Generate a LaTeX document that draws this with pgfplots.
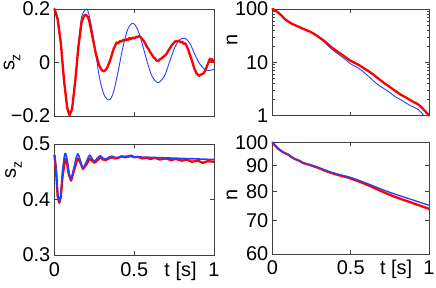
\documentclass[border=0pt]{standalone}
\usepackage{pgfplots}
\pgfplotsset{compat=1.18}
\usepackage{fontspec}
\setmainfont{Liberation Sans}
\definecolor{mred}{rgb}{1,0,0}
\definecolor{mblue}{rgb}{0.15,0.25,1}
\pgfplotsset{
  mstyle/.style={
    scale only axis,
    anchor=south west,
    clip=false,
    xmin=0, xmax=1,
    xtick={0,0.5,1},
    tick align=inside,
    major tick length=4bp,
    minor tick length=2bp,
    axis line style={black!75, line width=0.6bp},
    every tick/.style={black!75, line width=0.6bp},
    tick label style={font=\fontsize{20}{24}\selectfont},
    /pgf/number format/assume math mode=true,
    xticklabel style={anchor=base, yshift=-21bp},
    yticklabel style={anchor=east, inner sep=0pt, xshift=-4bp},
    label style={font=\fontsize{20}{24}\selectfont},
    ylabel style={anchor=center, rotate=0},
    every axis plot/.append style={line join=round, line cap=round},
  },
}
\newcommand{\sz}{s\raisebox{-0.3em}{\fontsize{14}{14}\selectfont z}}
\begin{document}
\begin{tikzpicture}[x=1bp,y=1bp]
\useasboundingbox (0,0) rectangle (436,287);
% top-left
\begin{axis}[mstyle, at={(54.5bp,171bp)}, width=159.5bp, height=107bp,
  ymin=-0.2, ymax=0.2, ytick={-0.2,0,0.2}, yticklabels={−0.2,0,0.2},
  xticklabels={},
  ylabel={\sz}, ylabel style={at={(axis description cs:-0.266,0.5)}}]
\addplot[mblue, line width=0.9bp, smooth] coordinates {
(0,0.2) (0.02,0.17) (0.04,0.08) (0.06,-0.06) (0.08,-0.17) (0.095,-0.2) (0.11,-0.17) (0.13,-0.06) (0.15,0.07) (0.17,0.17) (0.2,0.2) (0.22,0.17) (0.25,0.07) (0.28,-0.05) (0.31,-0.12) (0.344,-0.14) (0.37,-0.11) (0.40,-0.03) (0.43,0.06) (0.46,0.125) (0.49,0.147) (0.52,0.125) (0.55,0.07) (0.58,0.005) (0.61,-0.05) (0.64,-0.073) (0.66,-0.072) (0.69,-0.05) (0.72,0.0) (0.75,0.05) (0.78,0.083) (0.818,0.091) (0.85,0.07) (0.88,0.03) (0.91,-0.005) (0.94,-0.025) (0.97,-0.03) (1.0,-0.025)};
\addplot[mred, line width=2.3bp] coordinates {
(0,0.2) (0.02,0.16) (0.04,0.07) (0.06,-0.07) (0.08,-0.17) (0.094,-0.195) (0.11,-0.175) (0.13,-0.07) (0.15,0.06) (0.17,0.15) (0.185,0.175) (0.197,0.178) (0.21,0.17) (0.22,0.15) (0.24,0.09) (0.26,0.03) (0.28,-0.01) (0.295,-0.028) (0.31,-0.033) (0.32,-0.028) (0.33,-0.02) (0.35,0.01) (0.36,0.03) (0.37,0.05) (0.38,0.062) (0.39,0.075) (0.40,0.072) (0.41,0.08) (0.42,0.078) (0.43,0.085) (0.44,0.082) (0.45,0.087) (0.46,0.084) (0.47,0.092) (0.48,0.088) (0.49,0.093) (0.50,0.09) (0.51,0.096) (0.52,0.094) (0.53,0.1) (0.54,0.095) (0.55,0.088) (0.56,0.08) (0.57,0.07) (0.58,0.058) (0.59,0.05) (0.60,0.038) (0.61,0.03) (0.62,0.02) (0.63,0.015) (0.64,0.007) (0.65,0.005) (0.66,0.012) (0.67,0.015) (0.68,0.02) (0.69,0.025) (0.70,0.03) (0.71,0.04) (0.72,0.05) (0.73,0.06) (0.74,0.068) (0.75,0.075) (0.76,0.08) (0.77,0.078) (0.78,0.082) (0.79,0.075) (0.80,0.078) (0.81,0.07) (0.82,0.072) (0.83,0.06) (0.84,0.045) (0.845,0.035) (0.86,0.01) (0.875,-0.02) (0.89,-0.04) (0.905,-0.05) (0.915,-0.046) (0.92,-0.045) (0.935,-0.04) (0.945,-0.03) (0.955,-0.015) (0.965,0.0) (0.975,0.015) (0.985,0.005) (0.99,0.012) (0.995,0.005) (1.0,0.0)};
\end{axis}
% top-right
\begin{axis}[mstyle, at={(272.5bp,171.5bp)}, width=156.5bp, height=106.5bp,
  ymode=log, ymin=1, ymax=100, ytick={1,10,100}, yticklabels={1,10,100},
  xticklabels={},
  ylabel={n}, ylabel style={at={(axis description cs:-0.259,0.71)}}]
\addplot[mblue, line width=0.9bp, smooth] coordinates {
(0,100) (0.03,89) (0.06,74) (0.075,66) (0.09,61) (0.107,56) (0.12,53) (0.139,50) (0.16,47) (0.18,44) (0.2,41.5) (0.24,37) (0.27,33) (0.29,30) (0.32,25.5) (0.35,21) (0.38,17.5) (0.417,14.5) (0.45,12.2) (0.48,10.4) (0.5,9.3) (0.54,8.0) (0.57,7.0) (0.60,5.9) (0.63,4.9) (0.66,4.1) (0.69,3.5) (0.72,3.1) (0.75,2.7) (0.78,2.3) (0.81,2.05) (0.84,1.82) (0.87,1.6) (0.90,1.45) (0.93,1.3) (0.95,1.15) (0.966,1.0)};
\addplot[mred, line width=2.3bp, smooth] coordinates {
(0,100) (0.03,89) (0.06,74) (0.075,66.5) (0.09,61) (0.107,56.5) (0.12,53.5) (0.139,50.5) (0.16,47.5) (0.18,44.5) (0.2,42) (0.24,37.5) (0.27,33.5) (0.29,30.5) (0.32,26.5) (0.35,22.5) (0.38,18.8) (0.417,15.7) (0.45,13.5) (0.48,11.6) (0.5,10.6) (0.53,9.6) (0.56,8.6) (0.59,7.5) (0.61,6.9) (0.64,6.0) (0.67,5.1) (0.69,4.6) (0.716,4.0) (0.74,3.6) (0.77,3.1) (0.8,2.7) (0.82,2.45) (0.85,2.2) (0.88,1.95) (0.9,1.8) (0.93,1.62) (0.95,1.45) (0.97,1.25) (0.99,1.08) (1.0,1.0)};
\end{axis}
% bottom-left
\begin{axis}[mstyle, at={(54.5bp,32bp)}, width=159.5bp, height=111bp,
  ymin=0.3, ymax=0.5, ytick={0.3,0.4,0.5}, yticklabels={0.3,0.4,0.5},
  xticklabels={0,0.5,1},
  ylabel={\sz}, ylabel style={at={(axis description cs:-0.257,0.77)}}]
\node[font=\fontsize{20}{24}\selectfont, anchor=base] at (rel axis cs:0.79,0) [yshift=-21bp] {t [s]};
\addplot[mred, line width=2.3bp] coordinates {
(0,0.48) (0.01,0.45) (0.02,0.405) (0.03,0.394) (0.04,0.405) (0.05,0.44) (0.066,0.474) (0.08,0.463) (0.09,0.445) (0.104,0.434) (0.12,0.45) (0.144,0.474) (0.16,0.468) (0.178,0.455) (0.2,0.463) (0.22,0.474) (0.235,0.470) (0.25,0.466) (0.27,0.471) (0.287,0.476) (0.305,0.472) (0.32,0.471) (0.34,0.474) (0.36,0.476) (0.38,0.474) (0.4,0.475) (0.42,0.478) (0.44,0.476) (0.46,0.477) (0.48,0.479) (0.5,0.476) (0.52,0.477) (0.55,0.474) (0.58,0.475) (0.6,0.473) (0.63,0.475) (0.66,0.472) (0.7,0.474) (0.73,0.471) (0.76,0.473) (0.8,0.470) (0.83,0.472) (0.86,0.468) (0.9,0.470) (0.93,0.466) (0.96,0.469) (1.0,0.468)};
\addplot[mblue, line width=1.6bp, smooth] coordinates {
(0,0.48) (0.01,0.455) (0.02,0.41) (0.03,0.397) (0.04,0.41) (0.05,0.45) (0.066,0.483) (0.08,0.47) (0.09,0.45) (0.104,0.437) (0.12,0.455) (0.144,0.482) (0.16,0.472) (0.178,0.457) (0.2,0.468) (0.22,0.480) (0.235,0.474) (0.25,0.469) (0.27,0.475) (0.287,0.479) (0.305,0.474) (0.32,0.473) (0.34,0.476) (0.36,0.478) (0.38,0.476) (0.4,0.476) (0.45,0.478) (0.5,0.477) (0.6,0.476) (0.7,0.475) (0.8,0.474) (0.9,0.473) (1.0,0.472)};
\end{axis}
% bottom-right
\begin{axis}[mstyle, at={(272.5bp,33bp)}, width=156.5bp, height=111.5bp,
  ymode=log, ymin=60, ymax=100, ytick={60,70,80,90,100}, yticklabels={60,70,80,90,100},
  minor ytick={},
  xticklabels={0,0.5,1},
  ylabel={n}, ylabel style={at={(axis description cs:-0.259,0.53)}}]
\node[font=\fontsize{20}{24}\selectfont, anchor=base] at (rel axis cs:0.79,0) [yshift=-21bp] {t [s]};
\addplot[mred, line width=2.3bp, smooth] coordinates {
(0,100) (0.02,98.3) (0.04,97) (0.066,95.7) (0.08,95.2) (0.098,94.7) (0.12,93.6) (0.14,92.8) (0.17,92.0) (0.194,91.1) (0.24,90.2) (0.28,89.3) (0.32,88.3) (0.365,87.2) (0.43,86.0) (0.5,84.8) (0.6,82.5) (0.716,79.5) (0.8,77.6) (0.9,75.7) (1.0,73.8)};
\addplot[mblue, line width=1.3bp, smooth] coordinates {
(0,100) (0.02,98.3) (0.04,97) (0.066,95.7) (0.08,95.2) (0.098,94.7) (0.12,93.6) (0.14,92.8) (0.17,92.0) (0.194,91.1) (0.24,90.3) (0.28,89.5) (0.32,88.5) (0.365,87.5) (0.43,86.3) (0.5,85.2) (0.6,83.0) (0.716,80.3) (0.8,78.6) (0.9,76.8) (1.0,75.0)};
\end{axis}
\end{tikzpicture}
\end{document}
